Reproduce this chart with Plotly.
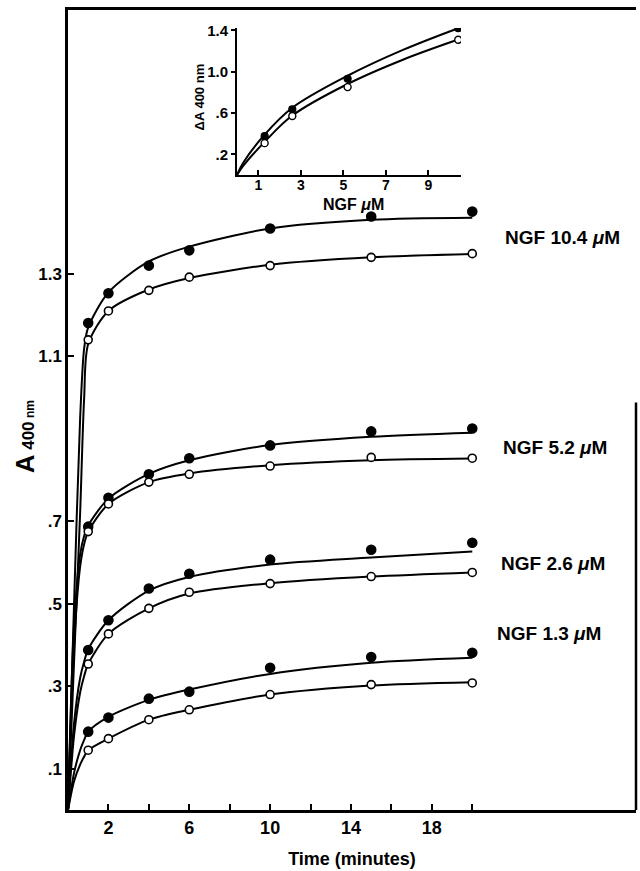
import plotly.graph_objects as go

# ---------------- data ----------------
time_min = [1, 2, 4, 6, 10, 15, 20]
ngf_labels = ["NGF 10.4 <i>μ</i>M", "NGF 5.2 <i>μ</i>M", "NGF 2.6 <i>μ</i>M", "NGF 1.3 <i>μ</i>M"]

filled_104 = [1.181, 1.253, 1.320, 1.357, 1.410, 1.439, 1.451]
open_104 = [1.140, 1.210, 1.260, 1.292, 1.320, 1.340, 1.349]
filled_52 = [0.687, 0.757, 0.814, 0.853, 0.884, 0.918, 0.925]
open_52 = [0.675, 0.742, 0.795, 0.814, 0.834, 0.855, 0.853]
filled_26 = [0.388, 0.460, 0.537, 0.573, 0.607, 0.631, 0.648]
open_26 = [0.354, 0.427, 0.489, 0.528, 0.549, 0.566, 0.576]
filled_13 = [0.190, 0.224, 0.270, 0.287, 0.345, 0.371, 0.381]
open_13 = [0.145, 0.173, 0.219, 0.243, 0.280, 0.304, 0.308]

# fitted curves
curve_t = [0, 0.3, 0.6, 0.8, 1, 2, 4, 6, 10, 15, 20]
curve_filled_104 = [0, 0.50, 0.95, 1.12, 1.17, 1.255, 1.33, 1.366, 1.41, 1.431, 1.436]
curve_open_104 = [0, 0.36, 0.72, 1.00, 1.13, 1.21, 1.262, 1.29, 1.322, 1.34, 1.348]
curve_filled_52 = [0, 0.45, 0.62, 0.665, 0.69, 0.755, 0.815, 0.848, 0.885, 0.905, 0.915]
curve_open_52 = [0, 0.40, 0.59, 0.645, 0.675, 0.742, 0.795, 0.816, 0.836, 0.848, 0.852]
curve_filled_26 = [0, 0.21, 0.32, 0.36, 0.39, 0.46, 0.532, 0.565, 0.595, 0.612, 0.627]
curve_open_26 = [0, 0.18, 0.285, 0.325, 0.354, 0.427, 0.489, 0.525, 0.55, 0.566, 0.576]
curve_filled_13 = [0, 0.09, 0.145, 0.17, 0.19, 0.226, 0.267, 0.292, 0.33, 0.357, 0.369]
curve_open_13 = [0, 0.07, 0.11, 0.13, 0.145, 0.173, 0.219, 0.243, 0.28, 0.302, 0.31]

x_tickvals = [2, 4, 6, 8, 10, 12, 14, 16, 18, 20]
x_ticktext = ["2", "", "6", "", "10", "", "14", "", "18", ""]
y_tickvals = [0.1, 0.3, 0.5, 0.7, 1.1, 1.3]
y_ticktext = [".1", ".3", ".5", ".7", "1.1", "1.3"]

# inset
inset_conc = [1.3, 2.6, 5.2, 10.4]
inset_filled = [0.375, 0.635, 0.93, 1.42]
inset_open = [0.308, 0.57, 0.85, 1.308]
inset_curve_x = [0, 0.3, 1.3, 2.6, 5.2, 7.8, 10.4]
inset_curve_filled = [0, 0.12, 0.39, 0.65, 0.96, 1.21, 1.42]
inset_curve_open = [0, 0.09, 0.32, 0.575, 0.88, 1.115, 1.31]
inset_xticks = [1, 3, 5, 7, 9]
inset_yticks = [0.2, 0.6, 1.0, 1.4]
inset_yticktext = [".2", ".6", "1.0", "1.4"]

# ---------------- figure ----------------
SANS = "Liberation Sans, Arial, Helvetica, sans-serif"

fig = go.Figure()

curves = [
    (curve_filled_104, filled_104, True), (curve_open_104, open_104, False),
    (curve_filled_52, filled_52, True), (curve_open_52, open_52, False),
    (curve_filled_26, filled_26, True), (curve_open_26, open_26, False),
    (curve_filled_13, filled_13, True), (curve_open_13, open_13, False),
]
for cv, pts, filled in curves:
    fig.add_trace(go.Scatter(x=curve_t, y=cv, mode="lines",
                             line=dict(color="black", width=2, shape="spline", smoothing=0.8),
                             hoverinfo="skip", showlegend=False))
for cv, pts, filled in curves:
    fig.add_trace(go.Scatter(
        x=time_min, y=pts, mode="markers", showlegend=False,
        marker=dict(size=9 if filled else 8, symbol="circle",
                    color="black" if filled else "white",
                    line=dict(color="black", width=1.6))))

# inset traces
for cv in (inset_curve_filled, inset_curve_open):
    fig.add_trace(go.Scatter(x=inset_curve_x, y=cv, mode="lines", xaxis="x2", yaxis="y2",
                             line=dict(color="black", width=2, shape="spline", smoothing=1.0),
                             hoverinfo="skip", showlegend=False))
fig.add_trace(go.Scatter(x=inset_conc, y=inset_filled, mode="markers", xaxis="x2", yaxis="y2",
                         marker=dict(size=7, color="black", line=dict(color="black", width=1.2)), showlegend=False))
fig.add_trace(go.Scatter(x=inset_conc, y=inset_open, mode="markers", xaxis="x2", yaxis="y2",
                         marker=dict(size=7, color="white", line=dict(color="black", width=1.4)), showlegend=False))

W, H = 640, 871
ML, MR, MT, MB = 68, 4, 10, 56
PW = W - ML - MR
PH = H - MT - MB


def px_x(p):
    return (p - ML) / PW


def px_y(p):
    return (H - MB - p) / PH


fig.update_layout(
    width=W, height=H,
    margin=dict(l=ML, r=MR, t=MT, b=MB),
    paper_bgcolor="white", plot_bgcolor="white",
    xaxis=dict(range=[0, 28.1], showgrid=False, zeroline=False,
               showline=True, linecolor="black", linewidth=2.5, mirror=True,
               ticks="inside", ticklen=6, tickwidth=1.5, tickcolor="black",
               tickvals=x_tickvals, ticktext=["<b>%s</b>" % t if t else "" for t in x_ticktext],
               tickfont=dict(family=SANS, size=18, color="black"),
               title=dict(text="<b>Time (minutes)</b>", standoff=16,
                          font=dict(family=SANS, size=18, color="black"))),
    yaxis=dict(range=[0, 805 / 415], showgrid=False, zeroline=False,
               showline=True, linecolor="black", linewidth=2.5,
               ticks="inside", ticklen=6, tickwidth=1.5, tickcolor="black",
               tickvals=y_tickvals, ticktext=["<b>%s</b>" % t for t in y_ticktext],
               tickfont=dict(family=SANS, size=17, color="black")),
    xaxis2=dict(domain=[px_x(237), px_x(461)], anchor="y2", range=[0, 10.53],
                showgrid=False, zeroline=False, showline=True, linecolor="black", linewidth=2,
                ticks="inside", ticklen=5, tickwidth=1.5, tickcolor="black",
                ticklabelstandoff=-4,
                tickvals=inset_xticks, ticktext=["<b>%d</b>" % v for v in inset_xticks],
                tickfont=dict(family=SANS, size=14, color="black")),
    yaxis2=dict(domain=[px_y(176), px_y(28)], anchor="x2", range=[0, 1.423],
                showgrid=False, zeroline=False, showline=True, linecolor="black", linewidth=2,
                ticks="outside", ticklen=4, tickwidth=1.5, tickcolor="black",
                tickvals=inset_yticks, ticktext=["<b>%s</b>" % t for t in inset_yticktext],
                tickfont=dict(family=SANS, size=15, color="black")),
)

# partial right border of the main frame
fig.add_shape(type="line", xref="paper", yref="y", x0=1, x1=1, y0=0, y1=0.988,
              line=dict(color="black", width=2.5))

# series labels
label_pos = [(21.5, 1.388), (21.4, 0.88), (21.3, 0.598), (21.1, 0.429)]
for txt, (lx, ly) in zip(ngf_labels, label_pos):
    fig.add_annotation(x=lx, y=ly, xref="x", yref="y", text="<b>%s</b>" % txt,
                       showarrow=False, xanchor="left", yanchor="middle",
                       font=dict(family=SANS, size=19, color="black"))

# main y-axis title
fig.add_annotation(x=px_x(25), y=px_y(440), xref="paper", yref="paper", textangle=-90,
                   text="<b><span style='font-size:26px'>A</span> <span style='font-size:17px'>400</span><span style='font-size:12px'> nm</span></b>",
                   showarrow=False, xanchor="center", yanchor="middle",
                   font=dict(family=SANS, size=17, color="black"))

# inset axis titles
fig.add_annotation(x=px_x(199), y=px_y(98), xref="paper", yref="paper", textangle=-90,
                   text="<b>ΔA 400 nm</b>", showarrow=False, xanchor="center", yanchor="middle",
                   font=dict(family=SANS, size=13, color="black"))
fig.add_annotation(x=px_x(353), y=px_y(206), xref="paper", yref="paper",
                   text="<b>NGF <i>μ</i>M</b>", showarrow=False, xanchor="center", yanchor="middle",
                   font=dict(family=SANS, size=16, color="black"))

fig.write_html("out.html")
